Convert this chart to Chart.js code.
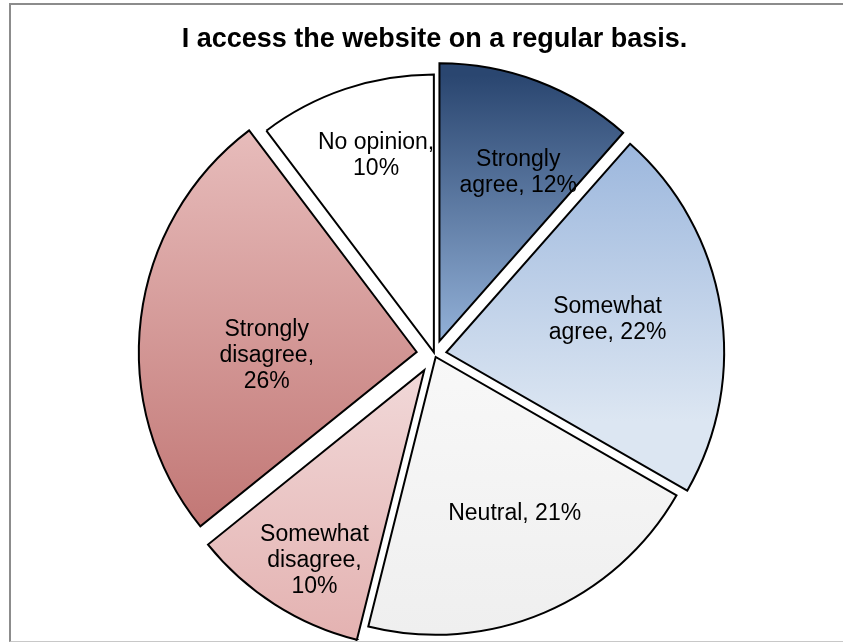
<!DOCTYPE html>
<html>
<head>
<meta charset="utf-8">
<title>I access the website on a regular basis.</title>
<script src="https://cdn.jsdelivr.net/npm/chart.js@4.4.1/dist/chart.umd.min.js"></script>
<style>
    body { margin: 0; background: #ffffff; }
    #wrap { position: relative; width: 843px; height: 643px; overflow: hidden; }
    #frame {
        position: absolute; left: 9px; top: 3px; width: 850px; height: 636px;
        border-left: 2px solid #8c8c8c; border-top: 2px solid #8c8c8c;
        border-bottom: 1px solid #c8c8c8; pointer-events: none;
    }
</style>
</head>
<body>
<div id="wrap">
    <canvas id="pieChart" width="843" height="643"></canvas>
    <div id="frame"></div>
</div>
<script>
// Survey answers, clockwise from 12 o'clock (shares,
// labels show them rounded like the original)
const categories = ["Strongly agree", "Somewhat agree", "Neutral", "Somewhat disagree", "Strongly disagree", "No opinion"];
const shares = [11.5, 21.8, 20.6, 10.3, 25.5, 10.3];

// Look of each slice (gradient top/bottom colour, where the stops sit in the chart area)
const gradTop = ["#2a4670", "#9cb7dd", "#f8f8f8", "#f1d8d8", "#e7bcbb", "#ffffff"];
const gradBottom = ["#93b1d8", "#dce6f2", "#efefef", "#e4b3b2", "#c17674", "#ffffff"];
const gradStops = [[0, 0.48], [0.12, 0.62], [0.5, 1], [0.53, 1], [0.1, 0.82], [0, 1]];
const explode = [14, 12, 3, 19, 18, 2];

// Label placement: share of the radius, turn from the bisector (deg), wrap width
const labelRadius = [0.727, 0.637, 0.637, 0.852, 0.604, 0.752];
const labelTurn = [3.8, -2.7, -3.9, -2.1, -6.8, 2.3];
const labelWrap = [130, 130, 150, 115, 115, 130];

const FONT = '"Liberation Sans", Arial, sans-serif';

// pull slices out along their bisector
const explodePlugin = {
    id: "explode",
    afterDatasetUpdate(chart, args) {
        args.meta.data.forEach((arc, i) => {
            const mid = (arc.startAngle + arc.endAngle) / 2;
            arc.x += Math.cos(mid) * explode[i];
            arc.y += Math.sin(mid) * explode[i];
        });
    }
};

function wrapWords(ctx, text, maxWidth) {
    const words = text.split(" ");
    const lines = [];
    let line = "";
    words.forEach(w => {
        const test = line ? line + " " + w : w;
        if (line && ctx.measureText(test).width > maxWidth) {
            lines.push(line);
            line = w;
        } else {
            line = test;
        }
    });
    if (line) lines.push(line);
    return lines;
}

const labelPlugin = {
    id: "sliceLabels",
    afterDatasetsDraw(chart) {
        const ctx = chart.ctx;
        const area = chart.chartArea;
        const cx = (area.left + area.right) / 2;
        const cy = (area.top + area.bottom) / 2;
        const meta = chart.getDatasetMeta(0);
        ctx.save();
        ctx.font = "23px " + FONT;
        ctx.fillStyle = "#000000";
        ctx.textAlign = "center";
        ctx.textBaseline = "middle";
        meta.data.forEach((arc, i) => {
            const ang = (arc.startAngle + arc.endAngle) / 2 + labelTurn[i] * Math.PI / 180;
            const r = arc.outerRadius * labelRadius[i];
            const x = cx + Math.cos(ang) * r;
            const y = cy + Math.sin(ang) * r + 2;
            const lines = wrapWords(ctx, `${categories[i]}, ${Math.round(shares[i])}%`, labelWrap[i]);
            const lh = 26;
            lines.forEach((ln, k) => {
                ctx.fillText(ln, x, y + (k - (lines.length - 1) / 2) * lh);
            });
        });
        ctx.restore();
    }
};

const ctx = document.getElementById("pieChart").getContext("2d");
new Chart(ctx, {
    type: "pie",
    data: {
        labels: categories,
        datasets: [{
            data: shares,
            backgroundColor: (c) => {
                const i = c.dataIndex;
                const area = c.chart.chartArea;
                if (!area) return gradTop[i];
                const g = c.chart.ctx.createLinearGradient(0, area.top, 0, area.bottom);
                g.addColorStop(gradStops[i][0], gradTop[i]);
                g.addColorStop(gradStops[i][1], gradBottom[i]);
                return g;
            },
            borderColor: "#000000",
            borderWidth: 2,
            borderJoinStyle: "miter"
        }]
    },
    options: {
        responsive: false,
        animation: false,
        events: [],
        layout: { padding: { left: 26, right: 0, top: 0, bottom: 10 } },
        plugins: {
            legend: { display: false },
            tooltip: { enabled: false },
            title: {
                display: true,
                text: "I access the website on a regular basis.",
                color: "#000000",
                font: { family: FONT, size: 27, weight: "bold" },
                padding: { top: 23, bottom: 20 }
            }
        }
    },
    plugins: [explodePlugin, labelPlugin]
});
</script>
</body>
</html>
